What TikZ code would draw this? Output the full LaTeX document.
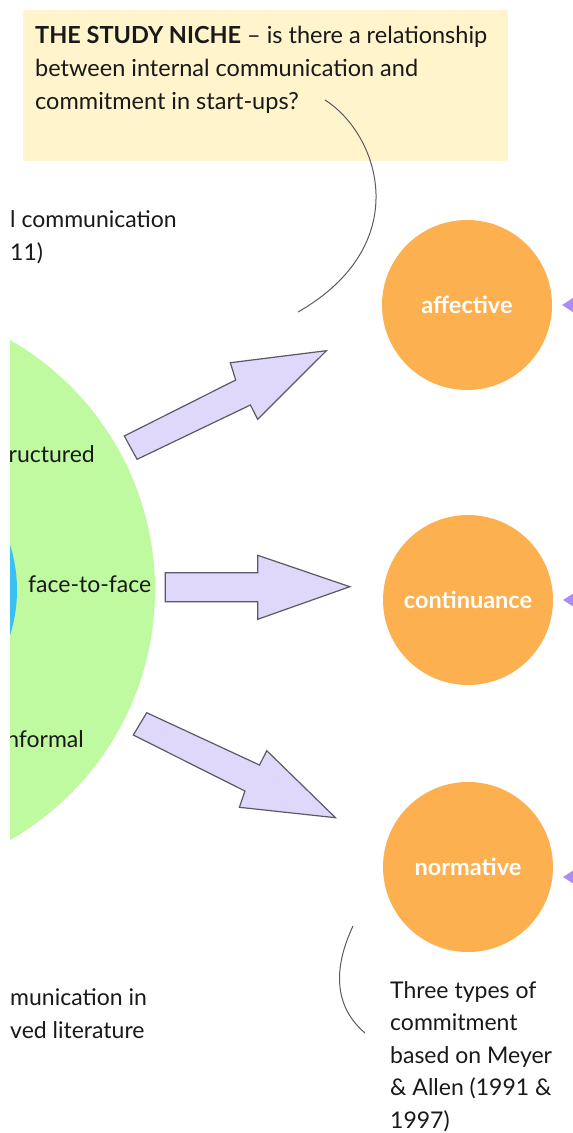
\documentclass[tikz,border=0pt]{standalone}
\usepackage{fontspec}
\setmainfont{Lato}
\definecolor{niche}{RGB}{255,244,204}
\definecolor{orng}{RGB}{252,176,80}
\definecolor{grn}{RGB}{192,250,160}
\definecolor{blu}{RGB}{60,190,245}
\definecolor{lav}{RGB}{224,216,250}
\definecolor{outl}{RGB}{90,90,100}
\definecolor{purp}{RGB}{170,140,245}
\definecolor{txt}{RGB}{25,25,25}
\usetikzlibrary{arrows.meta}
\tikzset{
  commit/.style={circle,fill=orng,minimum size=170pt,inner sep=0pt,text=white,font=\bfseries\fontsize{23.5}{26}\selectfont},
  blockarrow/.style={fill=lav,draw=outl,line width=1.2pt,line join=miter},
  plain/.style={inner sep=0pt,text=txt,font=\fontsize{23}{32.5}\selectfont,align=left},
  callout/.style={draw=outl,line width=1pt},
  sidetip/.style={-{Stealth[length=20pt,width=26pt,inset=4pt]},draw=purp,fill=purp,shorten >=10pt}
}
\begin{document}
\begin{tikzpicture}[x=1pt,y=-1pt]
\useasboundingbox (0,0) rectangle (573,1133);
\fill[white] (0,0) rectangle (573,1133);
% green/blue mind-map circle, clipped at the left
\begin{scope}
  \clip (10,0) rectangle (573,1133);
  \fill[grn] (-133,590) circle (288);
  \fill[blu] (-133,590) circle (150);
  \node[plain,anchor=base east] (struct) at (95,462) {ructured};
  \node[plain,anchor=base west] (face) at (28,592) {face-to-face};
  \node[plain,anchor=base east] (inform) at (84,747) {nformal};
  \node[plain,anchor=base west] (intcom) at (10,260) {l communication\\11)};
  \node[plain,anchor=base west] (revlit) at (10,1038) {munication in\\ved literature};
\end{scope}
% study niche box
\fill[niche] (23,10) rectangle (508,161);
\node[plain,anchor=base west,font=\fontsize{23.5}{33}\selectfont] (niche) at (35,109)
  {\textbf{THE STUDY NICHE} -- is there a relationship\\between internal communication and\\commitment in start-ups?};
% commitment circles
\node[commit] (aff) at (467,305) {affective};
\node[commit] (cont) at (468,600) {continuance};
\node[commit] (norm) at (468,867) {normative};
% block arrows
\draw[blockarrow] (124.3,436) -- (235.7,380) -- (230.3,362.7) -- (326.4,350.7)
  -- (257.7,419.3) -- (250.4,405) -- (137.1,459.3) -- cycle;
\draw[blockarrow] (165.2,572.7) -- (257.7,572.7) -- (257.7,555.3) -- (349.8,586.7)
  -- (257.7,619.3) -- (257.7,601.7) -- (165.2,601.7) -- cycle;
\draw[blockarrow] (146.7,712.7) -- (259.5,765) -- (266.8,750.7) -- (335.5,817.7)
  -- (239.4,807.3) -- (244.9,791) -- (133.3,735) -- cycle;
% callout curves
\coordinate (c1a) at (325,100);
\coordinate (c1b) at (298,312);
\draw[callout] (c1a) .. controls (380,135) and (415,245) .. (c1b);
\coordinate (c2a) at (353,926);
\coordinate (c2b) at (365,1033);
\draw[callout] (c2a) .. controls (330,975) and (338,1010) .. (c2b);
% bottom right note
\node[plain,anchor=base west] (three) at (390,1128)
  {Three types of\\commitment\\based on Meyer\\\& Allen (1991 \&\\1997)};
% small arrow tips entering from the right edge
\begin{scope}
  \clip (0,0) rectangle (573,1133);
  \coordinate (r1) at (640,305);
  \coordinate (r2) at (640,600);
  \coordinate (r3) at (640,877);
  \draw[sidetip] (r1) -- (aff);
  \draw[sidetip] (r2) -- (cont);
  \draw[sidetip] (r3) -- (norm.east |- r3);
\end{scope}
\end{tikzpicture}
\end{document}
